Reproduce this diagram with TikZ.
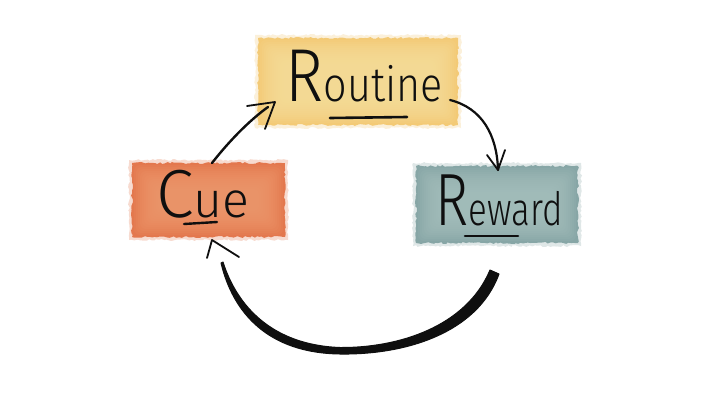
\documentclass[tikz,border=0pt]{standalone}
\usepackage{fontspec}
\newfontfamily\hand{Fira Sans Light}
\usetikzlibrary{decorations.pathmorphing}
\definecolor{rtA}{RGB}{243,198,108}
\definecolor{rtB}{RGB}{250,224,158}
\definecolor{cuA}{RGB}{226,112,68}
\definecolor{cuB}{RGB}{241,158,114}
\definecolor{rwA}{RGB}{128,161,161}
\definecolor{rwB}{RGB}{170,196,192}
\definecolor{inkc}{RGB}{15,15,15}
\tikzset{
  wash/.style={decorate, decoration={random steps, segment length=2.5pt, amplitude=1pt}},
  ink/.style={draw=inkc, line width=2.4pt, line cap=round, line join=round},
  barb/.style={draw=inkc, line width=1.8pt, line cap=round, line join=round},
  word/.style={font=\hand, text=inkc, inner sep=0pt, anchor=base}
}
\begin{document}
\begin{tikzpicture}[x=1pt,y=-1pt]
\useasboundingbox[fill=white] (0,0) rectangle (720,405);
\pgfmathsetseed{7}
% washes: soft halo, base, lighter insets
\fill[wash, rtA, opacity=0.25] (255,35) rectangle (461,128);
\fill[wash, rtA, opacity=0.9] (258,38) rectangle (458,125);
\foreach \i in {2,4,...,26}
  \fill[rtB, opacity=0.13, rounded corners=6pt] (258+\i,38+\i) rectangle (458-\i,125-\i);
\fill[wash, cuA, opacity=0.25] (129,160) rectangle (288,240);
\fill[wash, cuA, opacity=0.92] (132,163) rectangle (285,237);
\foreach \i in {2,4,...,26}
  \fill[cuB, opacity=0.12, rounded corners=6pt] (132+\i,163+\i) rectangle (285-\i,237-\i);
\fill[wash, rwA, opacity=0.25] (413,163) rectangle (581,246);
\fill[wash, rwA, opacity=0.92] (416,166) rectangle (578,243);
\foreach \i in {2,4,...,26}
  \fill[rwB, opacity=0.12, rounded corners=6pt] (416+\i,166+\i) rectangle (578-\i,243-\i);
% words
\node[word] (routine) at (364,101) {\scalebox{0.86}[1]{\fontsize{75}{75}\selectfont R\fontsize{48}{48}\selectfont outine}};
\node[word] (cue) at (203,217) {\fontsize{68}{68}\selectfont C\fontsize{50}{50}\selectfont ue};
\node[word] (reward) at (499,225) {\scalebox{0.76}[1]{\fontsize{74}{74}\selectfont R\fontsize{46}{46}\selectfont eward}};
% underlines
\draw[ink, line width=2.6pt] (330,118) -- (407,117);
\draw[ink, line width=2.4pt] (184,224) -- (217,222);
\draw[ink, line width=2.6pt] (465,236) -- (518,236);
% arrow cue -> routine
\coordinate (a1s) at (212,163);
\coordinate (a1t) at (275,102);
\draw[ink] (a1s) .. controls (230,140) and (250,120) .. (268,107);
\draw[barb] (247,106) -- (a1t) -- (265,129);
% arrow routine -> reward
\coordinate (a2s) at (450,100);
\coordinate (a2t) at (498,170);
\draw[ink, line width=2.2pt] (a2s) .. controls (482,108) and (497,135) .. (a2t);
\draw[barb] (487,155) -- (a2t) -- (505,150);
% big arrow reward -> cue
\coordinate (a3s) at (494,271);
\coordinate (a3t) at (212,240);
\fill[inkc, draw=inkc, line width=1pt, line join=round]
  (490,270) .. controls (466,327) and (398,348) .. (340,347.5)
  .. controls (272,345) and (237,306) .. (223,262)
  -- (221,263) .. controls (233,313) and (268,353) .. (340,354)
  .. controls (404,355) and (477,334) .. (499,274) -- cycle;
\draw[barb] (207,258) -- (a3t) -- (239,257);
\end{tikzpicture}
\end{document}
